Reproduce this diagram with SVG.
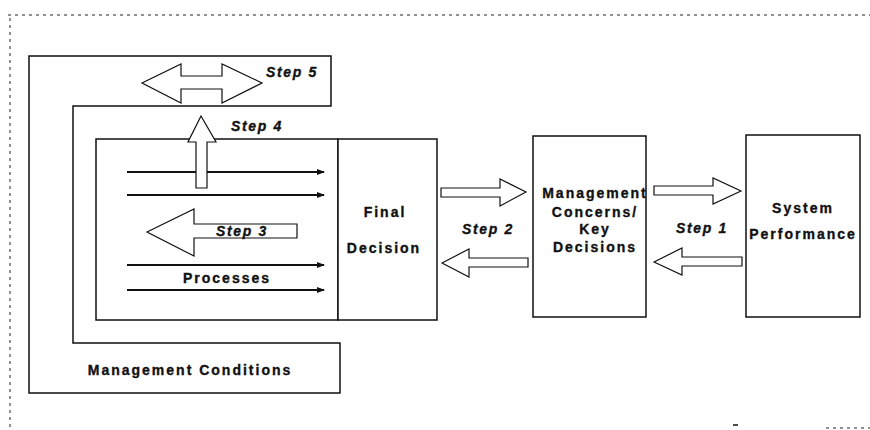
<svg xmlns="http://www.w3.org/2000/svg" width="870" height="430" viewBox="0 0 870 430">
<defs>
<style>
.bg{fill:#fff}
.frame{fill:none;stroke:#111;stroke-width:1.5}
.box{fill:#fff;stroke:#111;stroke-width:1.5}
.blk{fill:#fff;stroke:#111;stroke-width:1.2;stroke-linejoin:miter}
.flow{stroke:#111;stroke-width:2;fill:none}
.dash{stroke:#222;stroke-width:1;fill:none;stroke-dasharray:3 4}
.lbl{font-family:"Liberation Sans",Arial,Helvetica,sans-serif;font-weight:bold;font-size:14px;letter-spacing:2px;fill:#111;stroke:#111;stroke-width:0.35;text-anchor:middle}
.step{font-family:"Liberation Sans",Arial,Helvetica,sans-serif;font-weight:bold;font-style:italic;font-size:14px;letter-spacing:1.7px;fill:#111;stroke:#111;stroke-width:0.35;text-anchor:middle}
</style>
<marker id="ah" viewBox="0 0 8 6" refX="7" refY="3" markerWidth="4" markerHeight="3" orient="auto" markerUnits="strokeWidth">
<path d="M0,0 L8,3 L0,6 z" fill="#111"/>
</marker>
</defs>
<rect class="bg" x="0" y="0" width="870" height="430"/>

<g id="border">
<path class="dash" d="M8,15 H870"/>
<path class="dash" d="M10,18 V430"/>
<path class="dash" d="M826,428 H870"/>
<path d="M733,425 h5" stroke="#111" stroke-width="1.5"/>
</g>

<g id="management-conditions">
<polygon class="frame" points="29,56 331,56 331,106 73,106 73,343 340,343 340,393 29,393"/>
<text class="lbl" x="190" y="375">Management Conditions</text>
</g>

<g id="processes">
<rect class="box" x="96" y="139" width="242" height="181"/>
<text class="lbl" x="227" y="283">Processes</text>
</g>

<g id="final-decision">
<rect class="box" x="338" y="139" width="99" height="181"/>
<text class="lbl" x="385" y="217">Final</text>
<text class="lbl" x="384" y="253">Decision</text>
</g>

<g id="management-concerns">
<rect class="box" x="533" y="136" width="113" height="181"/>
<text class="lbl" x="595" y="198">Management</text>
<text class="lbl" x="595" y="217">Concerns/</text>
<text class="lbl" x="595" y="234">Key</text>
<text class="lbl" x="595" y="252">Decisions</text>
</g>

<g id="system-performance">
<rect class="box" x="746" y="135" width="114" height="182"/>
<text class="lbl" x="803" y="213">System</text>
<text class="lbl" x="803" y="239">Performance</text>
</g>

<g id="connectors">
<line class="flow" x1="127" y1="172" x2="324" y2="172" marker-end="url(#ah)"/>
<line class="flow" x1="127" y1="195" x2="324" y2="195" marker-end="url(#ah)"/>
<line class="flow" x1="127" y1="265" x2="324" y2="265" marker-end="url(#ah)"/>
<line class="flow" x1="127" y1="290" x2="324" y2="290" marker-end="url(#ah)"/>

<g id="step5">
<polygon class="blk" points="142,83 181,64 181,76 222,76 222,64 262,83 222,103 222,89 181,89 181,103"/>
<text class="step" x="292" y="77">Step 5</text>
</g>
<g id="step4">
<polygon class="blk" points="201,116 216,142 207,142 207,188 196,188 196,142 188,142"/>
<text class="step" x="257" y="131">Step 4</text>
</g>
<g id="step3">
<polygon class="blk" points="147,232 194,209 194,224 297,224 297,238 194,238 194,256"/>
<text class="step" x="242" y="236">Step 3</text>
</g>
<g id="step2">
<polygon class="blk" points="441,188 500,188 500,179 526,192 500,206 500,197 441,197"/>
<polygon class="blk" points="442,263 469,249 469,258 528,258 528,267 469,267 469,277"/>
<text class="step" x="488" y="234">Step 2</text>
</g>
<g id="step1">
<polygon class="blk" points="654,186 713,186 713,178 741,191 713,204 713,195 654,195"/>
<polygon class="blk" points="654,262 682,248 682,257 742,257 742,266 682,266 682,275"/>
<text class="step" x="702" y="233">Step 1</text>
</g>
</g>
</svg>
